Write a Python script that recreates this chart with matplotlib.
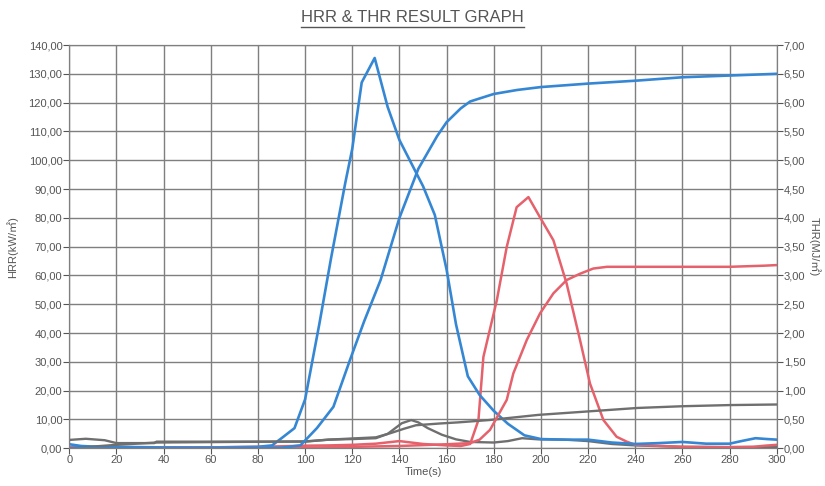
import matplotlib
matplotlib.use("Agg")
import matplotlib.pyplot as plt
from matplotlib.ticker import FuncFormatter, MultipleLocator
from matplotlib.lines import Line2D

plt.rcParams['font.family'] = ['Liberation Sans', 'Noto Sans CJK KR', 'DejaVu Sans']

# --- dane ---
# niebieska seria: HRR [kW/m2] i THR [MJ/m2]
t_hrr_blue = [0, 5, 10, 20, 40, 60, 80, 86, 90, 95.5, 100, 106, 111, 117, 120, 124, 129.5,
              135, 140, 145, 150, 155, 160, 164, 169, 174, 180, 186, 193, 200, 210, 220,
              230, 240, 250, 260, 270, 280, 285, 291, 296, 300]
hrr_blue = [1.4, 0.8, 0.6, 0.5, 0.3, 0.3, 0.5, 1.0, 3.5, 7.0, 17, 43, 66, 92, 104, 127, 135.5,
            118.5, 107, 99, 91, 81, 62, 43, 25, 18.5, 13, 8.5, 4.5, 3.2, 3.0, 3.0,
            2.0, 1.5, 1.8, 2.2, 1.6, 1.6, 2.5, 3.5, 3.2, 3.0]
t_thr_blue = [0, 60, 90, 98, 105, 112, 119, 125, 132, 140, 148, 156, 160, 166, 170, 180,
              190, 200, 220, 240, 260, 280, 300]
thr_blue = [0.0, 0.0, 0.01, 0.05, 0.35, 0.72, 1.53, 2.2, 2.92, 4.0, 4.85, 5.42, 5.66, 5.9,
            6.02, 6.15, 6.22, 6.27, 6.33, 6.38, 6.44, 6.47, 6.5]

# czerwona seria
t_hrr_red = [0, 20, 40, 60, 80, 100, 110, 120, 130, 140, 145, 150, 160, 166, 170, 173.5,
             175.6, 181.3, 185.5, 189.7, 194.7, 199.6, 205.3, 210.9, 216.6, 220.8, 226.5,
             232.1, 236.4, 240, 260, 280, 290, 295, 300]
hrr_red = [0.4, 0.3, 0.3, 0.3, 0.5, 0.9, 1.0, 1.2, 1.6, 2.5, 2.0, 1.5, 1.0, 0.8, 1.5, 9.8,
           31.7, 51.4, 69.9, 83.7, 87.2, 80.2, 72.2, 57.2, 37.5, 22.5, 9.8,
           4.0, 2.3, 1.2, 0.5, 0.4, 0.5, 0.9, 1.2]
t_thr_red = [0, 100, 140, 160, 170, 174, 178.4, 185.5, 188.3, 194, 199.6, 205.3, 210.9,
             216.6, 222.2, 228, 240, 260, 280, 295, 300]
thr_red = [0.0, 0.01, 0.04, 0.07, 0.09, 0.15, 0.32, 0.84, 1.3, 1.88, 2.34, 2.69, 2.92,
           3.03, 3.12, 3.15, 3.15, 3.15, 3.15, 3.17, 3.18]

# szara seria
t_hrr_gray = [0, 7, 15, 20, 30, 36, 37, 60, 80, 100, 110, 120, 130, 135, 141, 145, 148, 152,
              158, 164, 170, 180, 186, 192, 199, 210, 220, 230, 240, 260, 280, 300]
hrr_gray = [2.9, 3.3, 2.8, 1.8, 1.8, 1.8, 2.3, 2.3, 2.3, 2.3, 3.0, 3.2, 3.5, 5.0, 8.7, 9.8,
            9.0, 7.0, 4.7, 3.1, 2.2, 2.0, 2.5, 3.5, 3.1, 3.0, 2.5, 1.5, 1.0, 0.5, 0.4, 0.5]
t_thr_gray = [0, 20, 37, 100, 110, 120, 130, 136, 142, 147, 157, 165, 178, 192, 199, 220,
              241, 260, 280, 300]
thr_gray = [0.0, 0.06, 0.1, 0.12, 0.15, 0.17, 0.19, 0.26, 0.34, 0.40, 0.43, 0.45, 0.49,
            0.55, 0.58, 0.64, 0.70, 0.73, 0.75, 0.76]

x_ticks = list(range(0, 301, 20))

niebieski = '#3587d4'
czerwony = '#e5616b'
szary = '#6f6f6f'
kolor_siatki = '#7f7f7f'
kolor_tekstu = '#555555'

fig = plt.figure(figsize=(8.25, 4.86), dpi=100)
ax = fig.add_axes([0.084, 0.0776, 0.8575, 0.8298])
ax2 = ax.twinx()

# HRR na lewej osi
ax.plot(t_hrr_gray, hrr_gray, color=szary, lw=1.7)
ax.plot(t_hrr_red, hrr_red, color=czerwony, lw=1.8)
ax.plot(t_hrr_blue, hrr_blue, color=niebieski, lw=1.9)
# THR na prawej osi
ax2.plot(t_thr_gray, thr_gray, color=szary, lw=1.7)
ax2.plot(t_thr_red, thr_red, color=czerwony, lw=1.8)
ax2.plot(t_thr_blue, thr_blue, color=niebieski, lw=1.9)

ax.set_xlim(0, 300)
ax.set_ylim(0, 140)
ax2.set_ylim(0, 7)
ax.set_xticks(x_ticks)
ax.yaxis.set_major_locator(MultipleLocator(10))
ax2.yaxis.set_major_locator(MultipleLocator(0.5))

przecinek = FuncFormatter(lambda v, p: f"{v:.2f}".replace('.', ','))
ax.yaxis.set_major_formatter(przecinek)
ax2.yaxis.set_major_formatter(przecinek)

ax.grid(True, color=kolor_siatki, lw=1.0)
for a in (ax, ax2):
    for s in a.spines.values():
        s.set_color(kolor_siatki)
    a.tick_params(colors=kolor_tekstu, labelsize=8, length=4, width=0.8, pad=1)
ax.set_axisbelow(True)

ax.set_ylabel('HRR(kW/㎡)', color=kolor_tekstu, fontsize=8)
ax.yaxis.set_label_coords(-0.072, 0.5)
ax2.set_ylabel('THR(MJ/㎡)', color=kolor_tekstu, fontsize=8, rotation=-90, va='center')
ax2.yaxis.set_label_coords(1.054, 0.5)
ax.set_xlabel('Time(s)', color=kolor_tekstu, fontsize=8, labelpad=1)

# tytuł z podkreśleniem
tytul = fig.text(0.5, 0.965, 'HRR & THR RESULT GRAPH', ha='center', va='center',
                 fontsize=12, color=kolor_tekstu)
fig.canvas.draw()
bb = tytul.get_window_extent().transformed(fig.transFigure.inverted())
fig.add_artist(Line2D([bb.x0, bb.x1], [bb.y0 - 0.006, bb.y0 - 0.006],
                      transform=fig.transFigure, color=kolor_tekstu, lw=1.0))

fig.savefig('out.png', dpi=100)
